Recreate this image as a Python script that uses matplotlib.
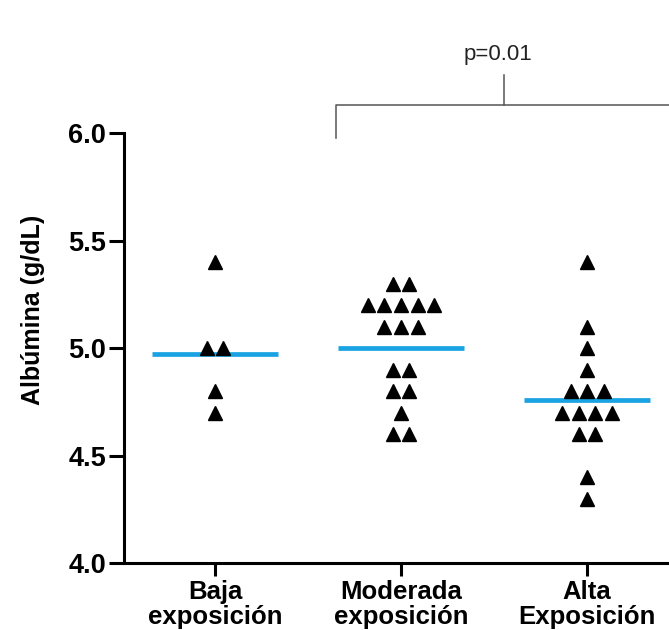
import numpy as np
import matplotlib.pyplot as plt
from collections import Counter

plt.rcParams['font.family'] = ['Liberation Sans', 'DejaVu Sans']

# Albúmina (g/dL) por grupo de exposición
groups = ['Baja\nexposición', 'Moderada\nexposición', 'Alta\nExposición']
baja = [5.4, 5.0, 5.0, 4.8, 4.7]
moderada = [5.3, 5.3, 5.2, 5.2, 5.2, 5.2, 5.2, 5.1, 5.1, 5.1,
            4.9, 4.9, 4.8, 4.8, 4.7, 4.6, 4.6]
alta = [5.4, 5.1, 5.0, 4.9, 4.8, 4.8, 4.8, 4.7, 4.7, 4.7, 4.7,
        4.6, 4.6, 4.4, 4.3]
means = [4.97, 5.0, 4.76]
p_text = 'p=0.01'

fig = plt.figure(figsize=(6.69, 6.30), dpi=100)
ax = fig.add_axes([0.1853, 0.1063, 0.8147, 0.6825])

step = 0.089  # horizontal gap between points sharing a value
for i, vals in enumerate([baja, moderada, alta]):
    counts = Counter(vals)
    xs, ys = [], []
    for v, n in counts.items():
        for k in range(n):
            xs.append(i + (k - (n - 1) / 2) * step)
            ys.append(v)
    ax.plot(xs, ys, '^', color='black', markersize=10, zorder=3)
    ax.plot([i - 0.34, i + 0.34], [means[i], means[i]], color='#1aa3e2',
            lw=3.4, solid_capstyle='butt', zorder=2)

ax.set_xlim(-0.489, 2.44)
ax.set_ylim(4.0, 6.0)
ax.set_yticks([4.0, 4.5, 5.0, 5.5, 6.0])
ax.set_yticklabels(['4.0', '4.5', '5.0', '5.5', '6.0'])
ax.set_xticks(range(3))
ax.set_xticklabels(groups, fontweight='bold', fontsize=18.5, linespacing=1.05)
for lab in ax.get_yticklabels():
    lab.set_fontweight('bold')
    lab.set_fontsize(19.5)
ax.tick_params(axis='y', length=11, width=2.2, pad=2)
ax.tick_params(axis='x', length=9, width=2.2, pad=3)
ax.spines['top'].set_visible(False)
ax.spines['right'].set_visible(False)
for s in ['left', 'bottom']:
    ax.spines[s].set_linewidth(2.2)
ax.set_ylabel('Albúmina (g/dL)', fontsize=18, fontweight='bold')
ax.yaxis.set_label_coords(-0.145, 0.588)

# significance bracket
bx0, bx1, bxc = 0.65, 2.46, 1.554
ax.plot([bx0, bx0, bx1], [5.977, 6.13, 6.13], color='#555555', lw=1.1,
        clip_on=False)
ax.plot([bxc, bxc], [6.13, 6.27], color='#555555', lw=1.1, clip_on=False)
ax.text(bxc - 0.035, 6.365, p_text, ha='center', va='center', fontsize=16,
        color='#222222')

fig.savefig('out.png', dpi=100)
